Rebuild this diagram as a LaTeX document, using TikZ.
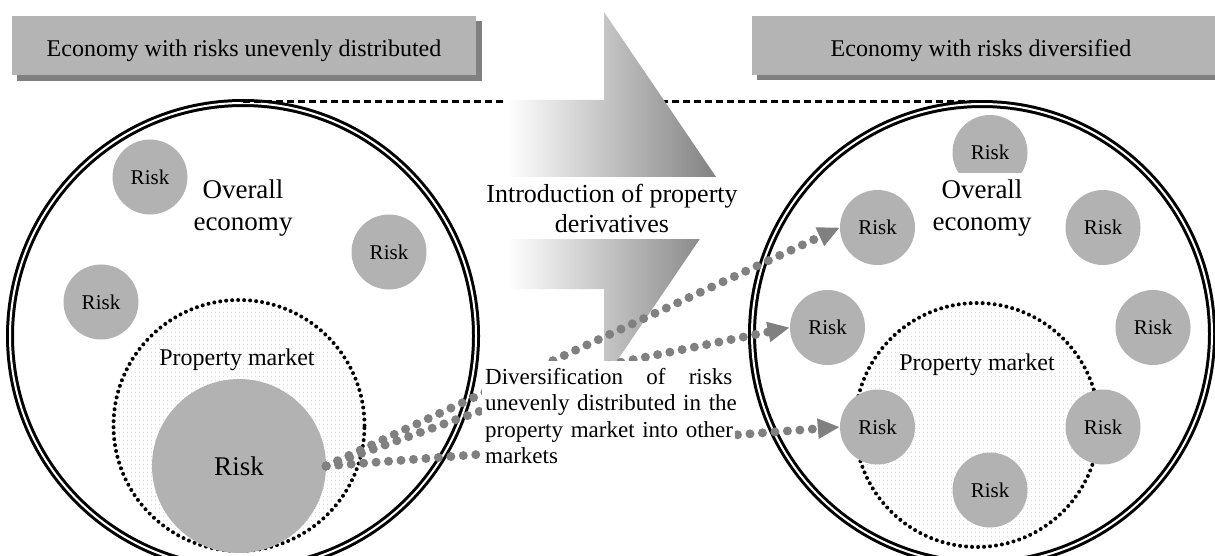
\documentclass[tikz,border=0pt]{standalone}
\usepackage{fontspec}
\setmainfont{Liberation Serif}
\usetikzlibrary{arrows.meta,patterns.meta}
\definecolor{hdrgray}{RGB}{180,180,180}
\definecolor{shadowgray}{RGB}{128,128,128}
\definecolor{riskgray}{RGB}{178,178,178}
\definecolor{flowgray}{RGB}{128,128,128}
\begin{document}
\begin{tikzpicture}[x=1pt,y=-1pt,
  hdrbox/.style={fill=hdrgray},
  hdrshadow/.style={fill=shadowgray},
  hdrtext/.style={anchor=base,font=\fontsize{24}{28}\selectfont},
  ring/.style={circle,draw=black,line width=3pt,double=white,double distance=2pt,inner sep=0pt},
  pmarket/.style={circle,draw=black,line width=4pt,dash pattern=on 0pt off 6pt,line cap=round,
    pattern={Dots[distance=4pt,radius=0.6pt]},pattern color=gray!35,inner sep=0pt},
  pmlabel/.style={anchor=base,font=\fontsize{24}{24}\selectfont},
  risk/.style={circle,fill=riskgray,minimum size=75pt,inner sep=0pt,font=\fontsize{21}{21}\selectfont},
  overall/.style={font=\fontsize{27}{32}\selectfont,align=center,fill=white,inner xsep=2pt,inner ysep=7pt},
  flow/.style={draw=flowgray,line width=9pt,dash pattern=on 0pt off 12.5pt,line cap=round,
    -{Triangle[length=22pt,width=19pt,fill=flowgray]}},
  tiedash/.style={draw=black,line width=2.8pt,dash pattern=on 7pt off 4pt}
]
\useasboundingbox (0,0) rectangle (1215,556);

% headers
\fill[hdrshadow] (17,21) rectangle (482,81);
\fill[hdrbox] (12,16) rectangle (476,75);
\node[hdrtext] (hL) at (244,57) {Economy with risks unevenly distributed};
\fill[hdrshadow] (757,21) rectangle (1220,80);
\fill[hdrbox] (752,16) rectangle (1215,75);
\node[hdrtext] (hR) at (981,57) {Economy with risks diversified};

% big rings
\node[ring,minimum size=466pt] (L) at (243,336) {};
\node[ring,minimum size=460pt] (R) at (982,334) {};

% dashed tie line
\draw[tiedash] (L.north) -- (L.north -| R.north);

% gradient arrow
\shade[left color=white,right color=black!52]
  (507,100) -- (604,100) -- (604,12) -- (729,196) -- (604,380) -- (604,289) -- (507,289) -- cycle;

% property markets
\node[pmarket,minimum size=251pt] (PL) at (239,425.5) {};
\node[pmarket,minimum size=244pt] (PR) at (977,425) {};

% left risks
\node[risk] (l1) at (150,177) {Risk};
\node[risk] (l2) at (389,252) {Risk};
\node[risk] (l3) at (101,302) {Risk};
\node[risk,minimum size=174pt,font=\fontsize{27}{27}\selectfont] (BR) at (239,466) {Risk};

% right risks
\node[risk] (rT) at (990,152.5) {Risk};
\node[risk] (RUL) at (877.5,227.5) {Risk};
\node[risk] (RUR) at (1103,227.5) {Risk};
\node[risk] (RML) at (827.5,327.5) {Risk};
\node[risk] (RMR) at (1153,327.5) {Risk};
\node[risk] (RLL) at (877.5,427) {Risk};
\node[risk] (RLR) at (1103,427) {Risk};
\node[risk] (RB) at (990,490) {Risk};

% dotted flows
\coordinate (bend) at (612,364);
\draw[flow] (BR.east) -- (RUL.west);
\draw[flow] (BR.east) -- (bend) -- (RML.west);
\draw[flow] (BR.east) -- (RLL.west);

% texts
\node[overall] (oeL) at (243,208) {Overall\\economy};
\node[overall] (oeR) at (982,208) {Overall\\economy};
\node[pmlabel] (pmL) at (237,365) {Property market};
\node[pmlabel] (pmR) at (977,370) {Property market};
\node[fill=white,font=\fontsize{26}{30}\selectfont,align=center,minimum width=283pt,minimum height=61pt,inner sep=0pt]
  (intro) at (612,208) {Introduction of property\\derivatives};
\node[fill=white,anchor=north west,text width=247pt,align=left,inner xsep=3pt,inner ysep=7pt,
  font=\fontsize{23}{26.5}\selectfont] (div) at (482,361)
  {\makebox[247pt][l]{Diversification\hfill of\hfill risks}\\
   \makebox[247pt][l]{unevenly \hfill distributed \hfill in \hfill the}\\
   \makebox[247pt][l]{property \hfill market \hfill into \hfill other}\\
   markets};
\end{tikzpicture}
\end{document}
